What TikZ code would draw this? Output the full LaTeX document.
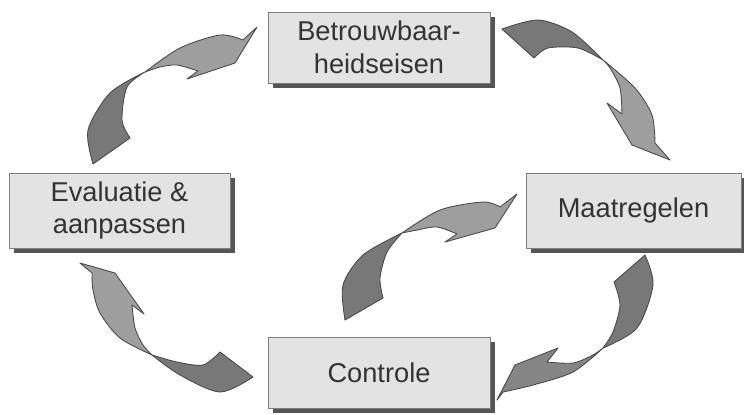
\documentclass[tikz,border=0pt]{standalone}
\usepackage{fontspec}
\setmainfont{Liberation Sans}
\usetikzlibrary{shadows}
\definecolor{boxgray}{HTML}{E3E3E3}
\definecolor{edgegray}{HTML}{7F7F7F}
\definecolor{shadowgray}{HTML}{555555}
\definecolor{textgray}{HTML}{333333}
\definecolor{darkarrow}{HTML}{787878}
\definecolor{lightarrow}{HTML}{9E9E9E}
\definecolor{midarrow}{HTML}{858585}
\definecolor{linegray}{HTML}{4A4A4A}
\begin{document}
\begin{tikzpicture}[x=0.02cm, y=-0.02cm,
        box/.style={rectangle, draw=edgegray, fill=boxgray, inner sep=0pt, align=center, text=textgray,
            font=\fontsize{15.5}{18.5}\selectfont,
            drop shadow={shadow xshift=0.1cm, shadow yshift=-0.1cm, fill=shadowgray, opacity=1}},
        tailpart/.style={fill=darkarrow, draw=linegray, line width=0.5pt, line join=round},
        headpart/.style={fill=lightarrow, draw=linegray, line width=0.5pt, line join=round}]
            \useasboundingbox (0,0) rectangle (744,414);

            \node[box, minimum width=4.44cm, minimum height=1.42cm] (eisen) at (379,47.5) {Betrouwbaar-\\heidseisen};
            \node[box, minimum width=4.3cm, minimum height=1.5cm] (maatregel) at (633.5,210.5) {Maatregelen};
            \node[box, minimum width=4.44cm, minimum height=1.42cm] (controle) at (379,372.5) {Controle};
            \node[box, minimum width=4.42cm, minimum height=1.5cm] (evaluatie) at (119.5,210.5) {Evaluatie \&\\aanpassen};

            \filldraw[tailpart] plot[smooth] coordinates {(93,164) (88,130) (110,93) (145,72)} -- plot[smooth] coordinates {(145,72) (127,87) (122,120) (130,138)} -- cycle;
            \filldraw[headpart] plot[smooth] coordinates {(145,72) (180,48) (220,35) (243,40)} -- (257,27) -- (235,63) -- (187,79) -- (198,71) -- plot[smooth] coordinates {(198,71) (177,65) (160,67) (145,72)} -- cycle;

            \filldraw[tailpart] plot[smooth] coordinates {(502,29) (538,20) (572,32) (603,60)} -- plot[smooth] coordinates {(603,60) (578,48) (548,48) (534,58)} -- cycle;
            \filldraw[headpart] plot[smooth] coordinates {(603,60) (635,88) (652,115) (655,143)} -- (670,160) -- (632,145) -- (607,103) -- (622,114) -- plot[smooth] coordinates {(622,114) (620,88) (610,68) (603,60)} -- cycle;

            \filldraw[tailpart] plot[smooth] coordinates {(345,320) (343,285) (363,255) (402,233)} -- plot[smooth] coordinates {(402,233) (387,252) (380,278) (383,298)} -- cycle;
            \filldraw[headpart] plot[smooth] coordinates {(402,233) (440,210) (483,202) (500,207)} -- (517,194) -- (495,228) -- (445,242) -- (457,234) -- plot[smooth] coordinates {(457,234) (437,227) (417,230) (402,233)} -- cycle;

            \filldraw[tailpart] plot[smooth] coordinates {(645,255) (653,285) (637,328) (603,348)} -- plot[smooth] coordinates {(603,348) (613,332) (620,305) (614,282)} -- cycle;
            \filldraw[headpart, fill=midarrow] plot[smooth] coordinates {(603,348) (573,372) (533,385) (503,392)} -- (497,400) -- (515,365) -- (558,348) -- (547,362) -- plot[smooth] coordinates {(547,362) (573,363) (593,355) (603,348)} -- cycle;

            \filldraw[tailpart] plot[smooth] coordinates {(253,377) (220,392) (180,375) (152,355)} -- plot[smooth] coordinates {(152,355) (177,362) (203,365) (220,352)} -- cycle;
            \filldraw[headpart] plot[smooth] coordinates {(152,355) (120,338) (100,313) (93,290) (92,273)} -- (80,263) -- (115,273) -- (144,314) -- (132,305) -- plot[smooth] coordinates {(132,305) (135,328) (143,345) (152,355)} -- cycle;
        \end{tikzpicture}
\end{document}
